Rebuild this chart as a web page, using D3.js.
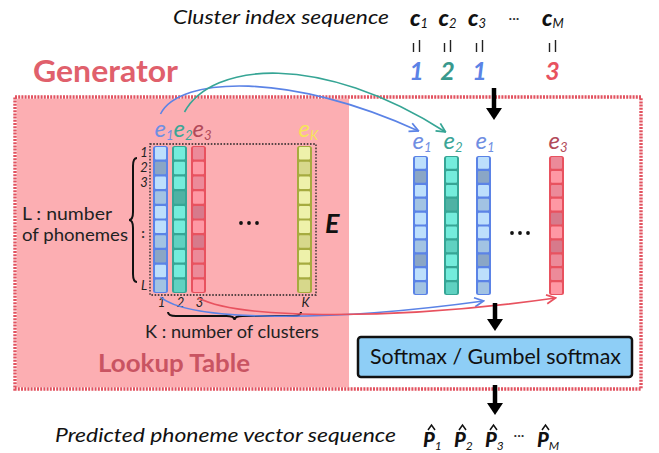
<!DOCTYPE html>
<html>
<head>
<meta charset="utf-8">
<script src="https://cdn.jsdelivr.net/npm/d3@7"></script>
<style>
body { margin: 0; background: #fff; }
text { font-family: Lato, "Open Sans", sans-serif; }
</style>
</head>
<body>
<svg id="fig" width="659" height="453"></svg>
<script>

// ======================= //
// DATA
// ======================= //

// lookup table columns (clusters) that are drawn
var tableCols = ["1", "2", "3", "K"];
var tableColColor = ["blue", "teal", "red", "yellow"];

// shade of the 10 phoneme cells of each column: 0 light, 1 medium, 2 dark
var shadeE1 = [0, 2, 0, 1, 0, 0, 1, 2, 0, 1];
var shadeE2 = [0, 0, 0, 2, 0, 0, 1, 0, 0, 1];
var shadeE3 = [1, 0, 1, 0, 2, 0, 2, 1, 1, 0];
var shadeEK = [0, 1, 0, 0, 0, 0, 1, 0, 0, 1];
var tableShades = [shadeE1, shadeE2, shadeE3, shadeEK];

// phoneme row ticks on the left of the table
var rowTickText = ["1", "2", "3", "L"];
var rowTickAt = [0, 1, 2, 9];

// cluster index sequence c_1 .. c_M and the picked cluster
var seqSub = ["1", "2", "3", "M"];
var clusterIdx = [1, 2, 1, 3];

// predicted phoneme vector sequence
var outSub = ["1", "2", "3", "M"];

var pal = {
  blue:   {line: "#5b83e6", label: "#6f8ee2", cell: ["#bddffc", "#a2c3e3", "#8aa6c6"]},
  teal:   {line: "#36a595", label: "#3aa596", cell: ["#74ecdc", "#5fd1c1", "#4fb2a4"]},
  red:    {line: "#e8525f", label: "#b24a5a", cell: ["#fe98a4", "#ec8a99", "#d77a8b"]},
  yellow: {line: "#a6ab3f", label: "#f5e45a", cell: ["#eef1aa", "#d7d88b", "#c6c676"]}
};
var idxColor = {1: "#5b83e6", 2: "#38998d", 3: "#e8525f"};
var idxPal = {1: "blue", 2: "teal", 3: "red"};

// ======================= //
// SVG AND SCALES
// ======================= //

var svg = d3.select("#fig");

var tx = d3.scaleOrdinal().domain(tableCols).range([160.5, 179.5, 198.5, 304.5]);
var ty = d3.scaleBand().domain(d3.range(10)).range([146, 293]);
var sx = d3.scaleOrdinal().domain(d3.range(clusterIdx.length)).range([420.5, 451.5, 483.5, 556.5]);
var sy = d3.scaleBand().domain(d3.range(10)).range([156, 295]);
var cx = d3.scaleOrdinal().domain(seqSub).range([410, 438.5, 468, 542]);
var px = d3.scaleOrdinal().domain(outSub).range([423, 454, 485, 537]);

// markers
var defs = svg.append("defs");
Object.keys(pal).forEach(function(k){
  defs.append("marker")
    .attr("id", "m-" + k)
    .attr("viewBox", "0 0 10 10")
    .attr("refX", 9).attr("refY", 5)
    .attr("markerWidth", 7).attr("markerHeight", 7)
    .attr("orient", "auto")
    .append("path")
      .attr("d", "M1,1 L9,5 L1,9")
      .attr("fill", "none")
      .attr("stroke", pal[k].line)
      .attr("stroke-width", 1.6);
});

// ======================= //
// GENERATOR BOX
// ======================= //

svg.append("rect")
  .attr("x", 15).attr("y", 97).attr("width", 334).attr("height", 292)
  .attr("fill", "#fcaeb2");
svg.append("rect")
  .attr("x", 15).attr("y", 97).attr("width", 626).attr("height", 292)
  .attr("fill", "none").attr("stroke", "#fff").attr("stroke-width", 3.4);
svg.append("rect")
  .attr("x", 15).attr("y", 97).attr("width", 626).attr("height", 292)
  .attr("fill", "none").attr("stroke", "#e2525f").attr("stroke-width", 3.4)
  .style("stroke-dasharray", "2,1.2");

svg.append("text")
  .attr("x", 33).attr("y", 82)
  .attr("textLength", 145).attr("lengthAdjust", "spacingAndGlyphs")
  .style("font-size", 31).style("font-weight", 700)
  .style("fill", "#e0606c")
  .text("Generator");

// ======================= //
// COLUMNS
// ======================= //

function drawColumn(g, x, yScale, shades, p) {
  var y0 = yScale.range()[0], y1 = yScale.range()[1];
  g.append("rect")
    .attr("x", x - 7.5).attr("y", y0).attr("width", 15).attr("height", y1 - y0)
    .attr("rx", 2.5)
    .attr("fill", p.line);
  g.selectAll("rect.cell")
    .data(shades)
    .enter()
    .append("rect")
      .attr("class", "cell")
      .attr("x", x - 5.5)
      .attr("y", function(d, i){ return yScale(i) + 1.1; })
      .attr("width", 11)
      .attr("height", yScale.bandwidth() - 2.2)
      .attr("rx", 1)
      .attr("fill", function(d){ return p.cell[d]; });
}

function eLabel(x, y, sub, color, size) {
  var t = svg.append("text")
    .attr("x", x).attr("y", y)
    .style("font-style", "italic").style("font-size", size)
    .style("fill", color);
  t.append("tspan").text("e");
  t.append("tspan").attr("dy", 3).style("font-size", size * 0.55).text(sub);
  return t;
}

// lookup table
var table = svg.append("g");
tableCols.forEach(function(c, i){
  drawColumn(table.append("g"), tx(c), ty, tableShades[i], pal[tableColColor[i]]);
  eLabel(tx(c) - 6, 137, c, pal[tableColColor[i]].label, 24);
  svg.append("text")
    .attr("x", tx(c) + 1).attr("y", 307)
    .attr("text-anchor", "middle")
    .style("font-style", "italic").style("font-size", 13)
    .style("fill", "#222")
    .text(c);
});

svg.append("rect")
  .attr("x", 150).attr("y", 144).attr("width", 166).attr("height", 151)
  .attr("fill", "none").attr("stroke", "#222").attr("stroke-width", 1.3)
  .style("stroke-dasharray", "1.6,1.6");

// row ticks
svg.selectAll("rowTicks")
  .data(rowTickText)
  .enter()
  .append("text")
    .attr("x", 144)
    .attr("y", function(d, i){ return ty(rowTickAt[i]) + ty.bandwidth() / 2 + 4; })
    .attr("text-anchor", "middle")
    .style("font-style", "italic").style("font-size", 13)
    .style("fill", "#222")
    .text(function(d){ return d; });
svg.append("text")
  .attr("x", 143).attr("y", ty(5) + ty.bandwidth() + 4)
  .attr("text-anchor", "middle")
  .style("font-size", 14).style("font-weight", 700).style("fill", "#333")
  .text(":");

// dots inside matrix and on the right
[241, 249, 257].forEach(function(d){
  svg.append("circle").attr("cx", d).attr("cy", 223).attr("r", 1.9).attr("fill", "#111");
});
[512, 520, 528].forEach(function(d){
  svg.append("circle").attr("cx", d).attr("cy", 233).attr("r", 1.9).attr("fill", "#111");
});

svg.append("text")
  .attr("x", 325).attr("y", 233)
  .style("font-style", "italic").style("font-weight", 700)
  .style("font-size", 27).style("fill", "#111")
  .text("E");

// braces
function vbrace(x, y1, y2, w) {
  var m = (y1 + y2) / 2;
  return "M" + (x + w) + "," + y1 + " Q" + x + "," + y1 + " " + x + "," + (y1 + w * 2) +
    " L" + x + "," + (m - w * 2) + " Q" + x + "," + m + " " + (x - w) + "," + m +
    " Q" + x + "," + m + " " + x + "," + (m + w * 2) +
    " L" + x + "," + (y2 - w * 2) + " Q" + x + "," + y2 + " " + (x + w) + "," + y2;
}
function hbrace(x1, x2, y, w) {
  var m = (x1 + x2) / 2;
  return "M" + x1 + "," + (y - w) + " Q" + x1 + "," + y + " " + (x1 + w * 2) + "," + y +
    " L" + (m - w * 2) + "," + y + " Q" + m + "," + y + " " + m + "," + (y + w) +
    " Q" + m + "," + y + " " + (m + w * 2) + "," + y +
    " L" + (x2 - w * 2) + "," + y + " Q" + x2 + "," + y + " " + x2 + "," + (y - w);
}
svg.append("path").attr("d", vbrace(133, 158, 282, 4))
  .attr("fill", "none").attr("stroke", "#111").attr("stroke-width", 2);
svg.append("path").attr("d", hbrace(168, 301, 316, 4))
  .attr("fill", "none").attr("stroke", "#111").attr("stroke-width", 2);

svg.append("text").attr("x", 22).attr("y", 220)
  .attr("textLength", 90).attr("lengthAdjust", "spacingAndGlyphs")
  .style("font-size", 17).style("fill", "#222").text("L : number");
svg.append("text").attr("x", 22).attr("y", 241)
  .attr("textLength", 106).attr("lengthAdjust", "spacingAndGlyphs")
  .style("font-size", 17).style("fill", "#222").text("of phonemes");
svg.append("text").attr("x", 145).attr("y", 338)
  .attr("textLength", 174).attr("lengthAdjust", "spacingAndGlyphs")
  .style("font-size", 17).style("fill", "#222").text("K : number of clusters");

svg.append("text").attr("x", 98).attr("y", 372)
  .attr("textLength", 152).attr("lengthAdjust", "spacingAndGlyphs")
  .style("font-size", 24).style("font-weight", 700).style("fill", "#c95462")
  .text("Lookup Table");

// selected columns on the right
clusterIdx.forEach(function(k, i){
  var col = k - 1;
  drawColumn(svg.append("g"), sx(i), sy, tableShades[col], pal[idxPal[k]]);
  eLabel(sx(i) - 8, 149, String(k), pal[idxPal[k]].label, 24);
});

// ======================= //
// CURVED ARROWS
// ======================= //

function curve(p0, p1, p2, p3) {
  var p = d3.path();
  p.moveTo(p0[0], p0[1]);
  p.bezierCurveTo(p1[0], p1[1], p2[0], p2[1], p3[0], p3[1]);
  return p.toString();
}
var curves = [
  {c: "blue", d: curve([tx("1"), 114], [180, 76], [290, 72], [sx(0) - 2, 131])},
  {c: "teal", d: curve([tx("2") + 5, 112], [212, 62], [320, 52], [sx(1) - 6, 132])},
  {c: "blue", d: curve([tx("1"), 297], [190, 322], [330, 322], [sx(2), 301])},
  {c: "red",  d: curve([tx("3"), 298], [240, 320], [400, 320], [sx(3) - 1, 298])}
];
svg.selectAll("curves")
  .data(curves)
  .enter()
  .append("path")
    .attr("d", function(d){ return d.d; })
    .attr("fill", "none")
    .attr("stroke", function(d){ return pal[d.c].line; })
    .attr("stroke-width", 1.6)
    .attr("marker-end", function(d){ return "url(#m-" + d.c + ")"; });

// ======================= //
// SEQUENCES ON TOP AND BOTTOM
// ======================= //

svg.append("text").attr("x", 173).attr("y", 24)
  .attr("textLength", 216).attr("lengthAdjust", "spacingAndGlyphs")
  .style("font-style", "italic").style("font-size", 20).style("fill", "#111")
  .text("Cluster index sequence");

seqSub.forEach(function(s, i){
  var t = svg.append("text").attr("x", cx(s)).attr("y", 26)
    .style("font-style", "italic").style("font-weight", 900)
    .style("font-size", 23).style("fill", "#111");
  t.append("tspan").text("c");
  t.append("tspan").attr("dy", 2).style("font-weight", 400).style("font-size", 13).text(s);
});
svg.append("text").attr("x", 514).attr("y", 23).attr("text-anchor", "middle")
  .style("font-size", 14).style("fill", "#333").text("···");

clusterIdx.forEach(function(k, i){
  var x = sx(i) - 4;
  svg.append("line").attr("x1", x - 3).attr("x2", x - 3).attr("y1", 43).attr("y2", 52)
    .attr("stroke", "#222").attr("stroke-width", 1.4);
  svg.append("line").attr("x1", x + 3).attr("x2", x + 3).attr("y1", 40).attr("y2", 52)
    .attr("stroke", "#222").attr("stroke-width", 1.4);
  svg.append("text").attr("x", x).attr("y", 80).attr("text-anchor", "middle")
    .style("font-style", "italic").style("font-weight", 700)
    .style("font-size", 25).style("fill", idxColor[k])
    .text(k);
});

// black arrows
function blackArrow(x, y1, y2) {
  svg.append("line").attr("x1", x).attr("x2", x).attr("y1", y1).attr("y2", y2 - 10)
    .attr("stroke", "#000").attr("stroke-width", 4.5);
  svg.append("path")
    .attr("d", "M" + (x - 8) + "," + (y2 - 12) + " L" + (x + 8) + "," + (y2 - 12) + " L" + x + "," + y2 + "Z")
    .attr("fill", "#000");
}
blackArrow(494, 88, 120);
blackArrow(495, 303, 331);
blackArrow(495, 385, 415);

// softmax box
svg.append("rect")
  .attr("x", 358).attr("y", 337).attr("width", 274).attr("height", 40)
  .attr("rx", 3)
  .attr("fill", "#8ecef6").attr("stroke", "#111").attr("stroke-width", 2.5);
svg.append("text").attr("x", 370).attr("y", 364)
  .attr("textLength", 251).attr("lengthAdjust", "spacingAndGlyphs")
  .style("font-size", 21).style("fill", "#111")
  .text("Softmax / Gumbel softmax");

svg.append("text").attr("x", 55).attr("y", 442)
  .attr("textLength", 341).attr("lengthAdjust", "spacingAndGlyphs")
  .style("font-style", "italic").style("font-size", 20).style("fill", "#111")
  .text("Predicted phoneme vector sequence");

outSub.forEach(function(s){
  var x = px(s);
  var t = svg.append("text").attr("x", x).attr("y", 447)
    .style("font-style", "italic").style("font-weight", 900)
    .style("font-size", 20).style("fill", "#111");
  t.append("tspan").text("P");
  t.append("tspan").attr("dy", 3).style("font-weight", 400).style("font-size", 12).text(s);
  svg.append("path")
    .attr("d", "M" + (x + 5) + "," + 430 + " L" + (x + 8.5) + "," + 425 + " L" + (x + 12) + "," + 430)
    .attr("fill", "none").attr("stroke", "#111").attr("stroke-width", 1.5);
});
svg.append("text").attr("x", 519).attr("y", 440).attr("text-anchor", "middle")
  .style("font-size", 14).style("fill", "#333").text("···");

</script>
</body>
</html>
